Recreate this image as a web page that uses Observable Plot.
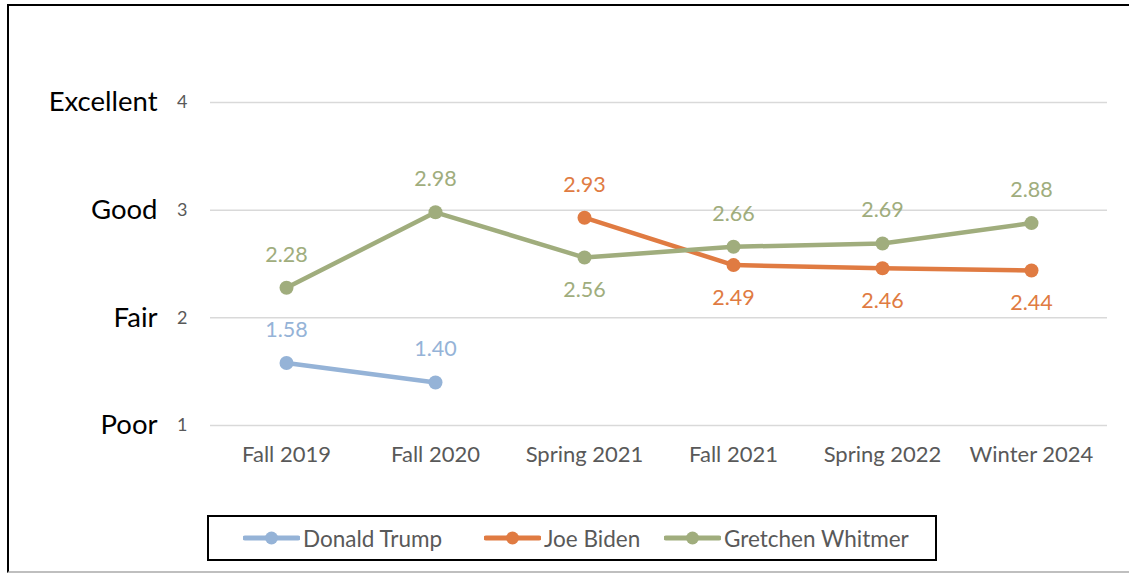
<!DOCTYPE html>
<html>
<head>
<meta charset="utf-8">
<script src="https://cdn.jsdelivr.net/npm/d3@7"></script>
<script src="https://cdn.jsdelivr.net/npm/@observablehq/plot@0.6"></script>
<style>
  html, body { margin: 0; padding: 0; background: #fff; overflow: hidden; }
  body { width: 1129px; height: 576px; position: relative; font-family: Lato, "Open Sans", sans-serif; }
  #frame { position: absolute; left: 7px; top: 4px; width: 1200px; height: 569px; border-left: 2px solid #000; border-top: 2px solid #000; border-bottom: 2px solid #bfbfbf; border-right: none; box-sizing: border-box; }
  #chart { position: absolute; left: 0; top: 0; }
  #legend { position: absolute; left: 207px; top: 515px; width: 730px; height: 46px; border: 2px solid #000; box-sizing: border-box; background: #fff; }
  .item { position: absolute; top: 0; height: 42px; display: flex; align-items: center; font-size: 22.5px; color: #595959; }
  .sw { width: 57px; height: 14px; margin-right: 3px; }
</style>
</head>
<body>
<div id="frame"></div>
<div id="chart"></div>
<div id="legend"></div>
<script>
const periods = ["Fall 2019", "Fall 2020", "Spring 2021", "Fall 2021", "Spring 2022", "Winter 2024"];
const seriesNames = ["Donald Trump", "Joe Biden", "Gretchen Whitmer"];
const trump   = [1.58, 1.40, null, null, null, null];
const biden   = [null, null, 2.93, 2.49, 2.46, 2.44];
const whitmer = [2.28, 2.98, 2.56, 2.66, 2.69, 2.88];
const colors  = ["#95B3D7", "#E07B42", "#A0AD7D"];
// label placement: 1 = above point, -1 = below point
const trumpPos   = [1, 1, 0, 0, 0, 0];
const bidenPos   = [0, 0, 1, -1, -1, -1];
const whitmerPos = [1, 1, -1, 1, 1, 1];
const yTicks = [1, 2, 3, 4];
const yTickNames = ["Poor", "Fair", "Good", "Excellent"];

const valuesBySeries = [trump, biden, whitmer];
const posBySeries = [trumpPos, bidenPos, whitmerPos];
const data = [];
valuesBySeries.forEach((vals, s) => {
  vals.forEach((v, i) => {
    if (v != null) data.push({series: seriesNames[s], period: periods[i], value: v, pos: posBySeries[s][i]});
  });
});

const chart = Plot.plot({
  width: 1129,
  height: 500,
  marginLeft: 210,
  marginRight: 22,
  marginTop: 102,
  marginBottom: 75,
  style: {fontFamily: "Lato, 'Open Sans', sans-serif", background: "transparent", overflow: "visible"},
  x: {type: "point", domain: periods, padding: 0.5, label: null},
  y: {domain: [1, 4], label: null},
  color: {domain: seriesNames, range: colors},
  marks: [
    Plot.gridY(yTicks, {stroke: "#d9d9d9", strokeOpacity: 1, strokeWidth: 1.5}),
    Plot.axisY(yTicks, {tickSize: 0, tickPadding: 23, fontSize: 18, fill: "#595959", tickFormat: d => String(d)}),
    Plot.axisY(yTicks, {tickSize: 0, tickPadding: 53, fontSize: 27.5, fill: "#000", tickFormat: d => yTickNames[yTicks.indexOf(d)]}),
    Plot.axisX({tickSize: 0, tickPadding: 21, fontSize: 22, fill: "#595959"}),
    Plot.line(data, {x: "period", y: "value", z: "series", stroke: "series", strokeWidth: 4.5}),
    Plot.dot(data, {x: "period", y: "value", fill: "series", r: 7}),
    Plot.text(data, {x: "period", y: "value", text: d => d.value.toFixed(2), fill: "series", fontSize: 21.5, filter: d => d.pos > 0, dy: -33}),
    Plot.text(data, {x: "period", y: "value", text: d => d.value.toFixed(2), fill: "series", fontSize: 21.5, filter: d => d.pos < 0, dy: 33})
  ]
});
document.getElementById("chart").appendChild(chart);

const legend = document.getElementById("legend");
const lefts = [34, 275, 455];
seriesNames.forEach((name, i) => {
  const item = document.createElement("div");
  item.className = "item";
  item.style.left = lefts[i] + "px";
  item.innerHTML = `<svg class="sw" width="57" height="14"><line x1="2" y1="7" x2="55" y2="7" stroke="${colors[i]}" stroke-width="5" stroke-linecap="round"/><circle cx="28.5" cy="7" r="6.5" fill="${colors[i]}"/></svg><span>${name}</span>`;
  legend.appendChild(item);
});
</script>
</body>
</html>
